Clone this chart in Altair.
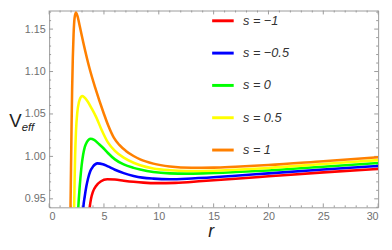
import altair as alt
import pandas as pd

# ---- data ----
labels = ["s = \u22121", "s = \u22120.5", "s = 0", "s = 0.5", "s = 1"]
colors = ["#ff0000", "#0000ff", "#00ff00", "#ffff00", "#ff8000"]

r_m1 = [3.6, 3.7, 3.82, 4.0, 4.3, 4.7, 5.3, 6.0, 6.8, 7.7, 8.6, 9.8, 11.5, 14, 17, 20, 25, 30]
v_m1 = [0.926, 0.94, 0.95, 0.9585, 0.9655, 0.9705, 0.9731, 0.9727, 0.9714, 0.9701, 0.9691, 0.9685,
        0.9688, 0.971, 0.9737, 0.9765, 0.9812, 0.9853]

r_m05 = [3.05, 3.12, 3.25, 3.4, 3.55, 3.75, 4.0, 4.4, 4.9, 5.36, 6.0, 6.8, 7.7, 8.5, 9.5, 11, 13, 17, 20, 25, 30]
v_m05 = [0.925, 0.94, 0.953, 0.965, 0.974, 0.9825, 0.988, 0.9918, 0.9908, 0.9882, 0.9843, 0.9803,
         0.977, 0.975, 0.9738, 0.9731, 0.974, 0.9772, 0.98, 0.9845, 0.9887]

r_0 = [2.6, 2.66, 2.75, 2.85, 2.97, 3.1, 3.25, 3.45, 3.78, 4.1, 4.5, 5.0, 5.36, 6.0, 6.8, 7.7, 8.3,
       9.5, 11, 12.5, 14, 17, 20, 25, 30]
v_0 = [0.925, 0.94, 0.958, 0.974, 0.99, 1.002, 1.011, 1.017, 1.0208, 1.0195, 1.015, 1.009, 1.004,
       0.9965, 0.9905, 0.9865, 0.9845, 0.9815, 0.98, 0.9797, 0.98, 0.9815, 0.9835, 0.9878, 0.9922]

r_p05 = [2.24, 2.28, 2.32, 2.37, 2.45, 2.57, 2.72, 2.85, 3.0, 3.2, 3.5, 3.9, 4.3, 4.76, 5.36, 6.0,
         6.8, 7.7, 8.3, 9.5, 11, 12.5, 15, 17, 20, 25, 30]
v_p05 = [0.925, 0.94, 0.97, 1.0, 1.03, 1.052, 1.064, 1.069, 1.0712, 1.0698, 1.065, 1.056, 1.046,
         1.032, 1.0165, 1.0065, 0.9985, 0.9925, 0.9895, 0.9858, 0.9837, 0.9828, 0.9832, 0.9843,
         0.9864, 0.991, 0.9956]

r_p1 = [1.9, 1.95, 1.98, 2.01, 2.05, 2.1, 2.16, 2.23, 2.32, 2.44, 2.58, 2.8, 3.12, 3.7, 4.2, 5.0,
        5.4, 5.9, 6.4, 7.0, 7.7, 8.3, 9.5, 11, 13, 15, 17, 20, 25, 30]
v_p1 = [0.925, 0.94, 0.97, 1.0, 1.04, 1.08, 1.116, 1.144, 1.163, 1.1695, 1.1655, 1.153, 1.134, 1.103,
        1.081, 1.05, 1.036, 1.022, 1.0135, 1.0065, 1.0005, 0.9965, 0.9915, 0.9882, 0.9867, 0.9868,
        0.9878, 0.9898, 0.9944, 0.999]

x_major = [0, 5, 10, 15, 20, 25, 30]
x_minor = [v for v in range(0, 31) if v % 5 != 0]
y_major = [0.95, 1.00, 1.05, 1.10, 1.15]
y_minor = [0.94, 0.96, 0.97, 0.98, 0.99, 1.01, 1.02, 1.03, 1.04, 1.06, 1.07, 1.08, 1.09,
           1.11, 1.12, 1.13, 1.14, 1.16, 1.17]

series = [(r_m1, v_m1), (r_m05, v_m05), (r_0, v_0), (r_p05, v_p05), (r_p1, v_p1)]
rows = []
for lab, (rs, vs) in zip(labels, series):
    for r, v in zip(rs, vs):
        rows.append({"r": r, "v": v, "s": lab})
df = pd.DataFrame(rows)

W, H = 336, 201
FRAME = "#9a9a9a"
FONT = "Liberation Sans"
xs = alt.Scale(domain=[0, 30], nice=False, zero=False)
ys = alt.Scale(domain=[0.94, 1.1719], nice=False, zero=False)

x_axis = alt.Axis(
    values=x_major, ticks=False, domain=False, grid=False, labelFont=FONT,
    labelFontSize=11, labelColor="#707070", labelPadding=3,
    title="r", titleFont=FONT, titleFontSize=18, titleFontStyle="italic",
    titleFontWeight="normal", titleColor="#222222", titleX=165, titleY=30,
    titleBaseline="alphabetic", titleAlign="center")
y_axis = alt.Axis(
    values=y_major, format=".2f", ticks=False, domain=False, grid=False, labelFont=FONT,
    labelFontSize=11, labelColor="#707070", labelPadding=4,
    title="V", titleFont=FONT, titleFontSize=19, titleFontWeight="normal",
    titleColor="#222222", titleAngle=0, titleX=-35, titleY=118,
    titleBaseline="alphabetic", titleAlign="center")

lines = alt.Chart(df).mark_line(clip=True, strokeWidth=2.6, interpolate="monotone").encode(
    x=alt.X("r:Q", scale=xs, axis=x_axis),
    y=alt.Y("v:Q", scale=ys, axis=y_axis),
    color=alt.Color("s:N", sort=labels, scale=alt.Scale(domain=labels, range=colors),
                    legend=alt.Legend(orient="none", legendX=165, legendY=-2, title=None,
                                      symbolType="stroke", symbolSize=484, symbolStrokeWidth=3,
                                      labelFont=FONT, labelFontSize=13, labelFontStyle="italic",
                                      labelColor="#333333", rowPadding=13, labelOffset=8)),
)


def xticks(vals, y0, y1):
    return alt.Chart(pd.DataFrame({"r": vals})).mark_rule(color=FRAME, strokeWidth=1).encode(
        x=alt.X("r:Q", scale=xs, axis=x_axis), y=alt.value(y0), y2=alt.value(y1))


def yticks(vals, x0, x1):
    return alt.Chart(pd.DataFrame({"v": vals})).mark_rule(color=FRAME, strokeWidth=1).encode(
        y=alt.Y("v:Q", scale=ys, axis=y_axis), x=alt.value(x0), x2=alt.value(x1))


ticks = [
    xticks(x_major, H, H - 4), xticks(x_minor, H, H - 2),
    xticks(x_major, 0, 4), xticks(x_minor, 0, 2),
    yticks(y_major, 0, 4), yticks(y_minor, 0, 2),
    yticks(y_major, W, W - 4), yticks(y_minor, W, W - 2),
]

sub = alt.Chart(pd.DataFrame({"t": ["eff"]})).mark_text(
    font=FONT, fontSize=11.5, fontStyle="italic", color="#222222", align="left",
    baseline="alphabetic").encode(text="t:N", x=alt.value(-28), y=alt.value(123))

chart = alt.layer(*ticks, lines, sub).properties(
    width=W, height=H,
    autosize=alt.AutoSizeParams(type="none"),
    padding={"left": 42, "top": 0, "right": 6, "bottom": 40},
).configure_view(stroke=FRAME, strokeWidth=1)

chart.save("out.html", embed_options={"renderer": "svg", "actions": False})
